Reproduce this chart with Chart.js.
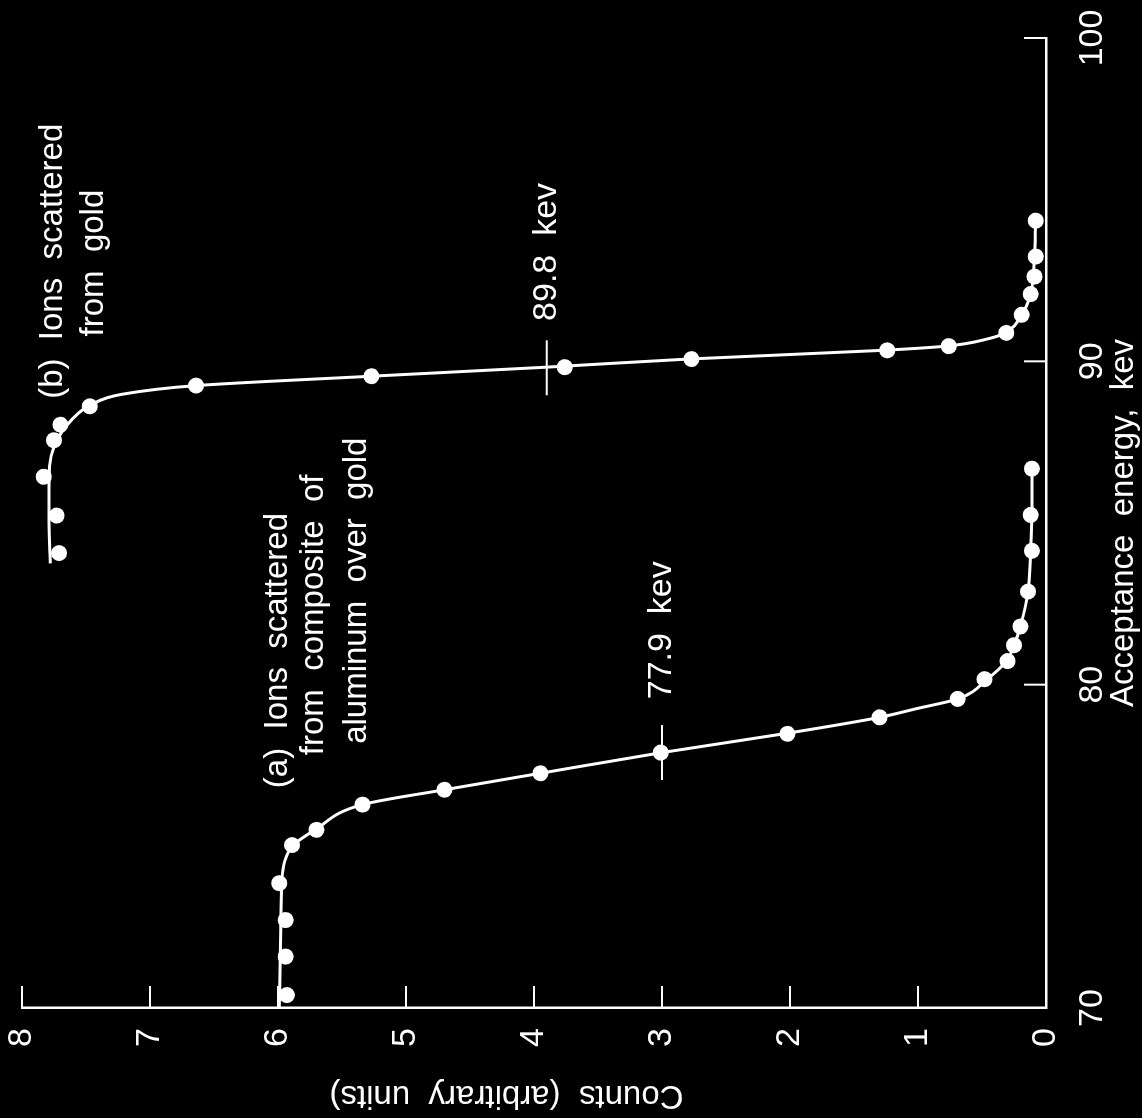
<!DOCTYPE html>
<html>
<head>
<meta charset="utf-8">
<script src="https://cdn.jsdelivr.net/npm/chart.js@4"></script>
<style>
  html, body { margin: 0; padding: 0; background: #000; overflow: hidden; }
  #wrap { position: relative; width: 1142px; height: 1118px; background: #000; }
  /* chart is drawn upright, then turned a quarter turn like the printed figure */
  #graph {
    position: absolute; left: 0; top: 0;
    width: 1118px; height: 1142px;
    transform-origin: 0 0;
    transform: translate(0, 1118px) rotate(-90deg);
  }
</style>
</head>
<body>
<div id="wrap"><canvas id="graph" width="1118" height="1142"></canvas></div>
<script>
const ctx = document.getElementById("graph");

// tick labels
const energyTicks = [70, 80, 90, 100];
const countTicks = [0, 1, 2, 3, 4, 5, 6, 7, 8];

// (a) composite of aluminum over gold - measured points
const aEnergy = [70.40, 71.59, 72.72, 73.86, 75.04, 75.51, 76.29, 76.75, 77.26, 77.90, 78.48, 78.99, 79.56, 80.17, 80.73, 81.22, 81.80, 82.88, 84.14, 85.25, 86.68];
const aCounts = [5.93, 5.94, 5.94, 5.99, 5.89, 5.70, 5.34, 4.70, 3.95, 3.01, 2.02, 1.30, 0.69, 0.48, 0.30, 0.25, 0.20, 0.14, 0.11, 0.12, 0.11];
// (a) drawn curve
const aFitEnergy = [70.0, 72.0, 73.9, 74.5, 75.04, 75.51, 76.29, 76.75, 77.26, 77.9, 78.48, 78.99, 79.25, 79.56, 80.17, 80.73, 81.22, 81.8, 82.88, 84.14, 85.25, 86.68];
const aFitCounts = [5.99, 5.98, 5.97, 5.95, 5.88, 5.71, 5.34, 4.70, 3.95, 3.0, 2.05, 1.30, 1.02, 0.69, 0.46, 0.31, 0.25, 0.20, 0.14, 0.12, 0.11, 0.11];

// (b) gold - measured points
const bEnergy = [84.07, 85.23, 86.43, 87.56, 88.04, 88.61, 89.25, 89.54, 89.82, 90.07, 90.34, 90.47, 90.88, 91.44, 92.08, 92.62, 93.24, 94.35];
const bCounts = [7.71, 7.73, 7.83, 7.75, 7.70, 7.47, 6.64, 5.27, 3.76, 2.77, 1.24, 0.76, 0.31, 0.19, 0.12, 0.09, 0.08, 0.08];
// (b) drawn curve
const bFitEnergy = [83.75, 85.0, 86.14, 87.36, 88.2, 88.66, 88.98, 89.25, 89.54, 89.82, 90.07, 90.34, 90.47, 90.7, 90.88, 91.44, 92.08, 92.62, 93.24, 94.35];
const bFitCounts = [7.78, 7.79, 7.79, 7.75, 7.61, 7.46, 7.22, 6.64, 5.27, 3.9, 2.80, 1.28, 0.78, 0.45, 0.32, 0.19, 0.12, 0.10, 0.09, 0.08];

// half-height marks
const markEnergy = [77.9, 89.8];
const markCounts = [3.0, 3.9];
const markLabels = ["77.9  kev", "89.8  kev"];

const toXY = (xs, ys) => xs.map((v, i) => ({ x: v, y: ys[i] }));

const FONT = "'Liberation Sans', Arial, sans-serif";

const overlay = {
  id: "overlay",
  afterDatasetsDraw(chart) {
    const c = chart.ctx;
    const { x, y } = chart.scales;
    c.save();
    c.strokeStyle = "#fff";
    c.fillStyle = "#fff";
    c.lineWidth = 2;
    // inward tick marks
    energyTicks.forEach((v) => {
      const px = x.getPixelForValue(v);
      c.beginPath();
      c.moveTo(px, y.bottom);
      c.lineTo(px, y.bottom - 22);
      c.stroke();
    });
    countTicks.forEach((v) => {
      const py = y.getPixelForValue(v);
      c.beginPath();
      c.moveTo(x.left, py);
      c.lineTo(x.left + 22, py);
      c.stroke();
    });
    // half-height crossing marks + labels
    c.font = "34px " + FONT;
    c.textBaseline = "middle";
    c.textAlign = "left";
    const labelStart = [79.55, 91.25];
    markEnergy.forEach((e, i) => {
      const py = y.getPixelForValue(markCounts[i]);
      c.beginPath();
      c.moveTo(x.getPixelForValue(e - 0.85), py);
      c.lineTo(x.getPixelForValue(e + 0.85), py);
      c.stroke();
      c.fillText(markLabels[i], x.getPixelForValue(labelStart[i]), py);
    });
    // curve notes
    const notes = [
      ["(a)  Ions  scattered", 76.8, 6.0],
      ["from  composite  of", 77.82, 5.72],
      ["aluminum  over  gold", 78.17, 5.38],
      ["(b)  Ions  scattered", 88.84, 7.76],
      ["from  gold", 90.77, 7.44]
    ];
    c.font = "33px " + FONT;
    notes.forEach(([t, e, n]) => {
      c.fillText(t, x.getPixelForValue(e), y.getPixelForValue(n));
    });
    c.restore();
  }
};

new Chart(ctx, {
  type: "scatter",
  data: {
    datasets: [
      {
        label: "(a) curve",
        data: toXY(aFitEnergy, aFitCounts),
        showLine: true,
        borderColor: "#fff",
        borderWidth: 3,
        pointRadius: 0,
        cubicInterpolationMode: "monotone",
        order: 2
      },
      {
        label: "(b) curve",
        data: toXY(bFitEnergy, bFitCounts),
        showLine: true,
        borderColor: "#fff",
        borderWidth: 3,
        pointRadius: 0,
        cubicInterpolationMode: "monotone",
        order: 2
      },
      {
        label: "(a) Ions scattered from composite of aluminum over gold",
        data: toXY(aEnergy, aCounts),
        backgroundColor: "#fff",
        borderWidth: 0,
        pointRadius: 8,
        order: 1
      },
      {
        label: "(b) Ions scattered from gold",
        data: toXY(bEnergy, bCounts),
        backgroundColor: "#fff",
        borderWidth: 0,
        pointRadius: 8,
        order: 1
      }
    ]
  },
  options: {
    responsive: false,
    animation: false,
    devicePixelRatio: 1,
    layout: { padding: { top: 22, right: 38, left: 0, bottom: 0 } },
    plugins: {
      legend: { display: false },
      tooltip: { enabled: false }
    },
    scales: {
      x: {
        type: "linear",
        position: "bottom",
        min: 70,
        max: 100,
        afterBuildTicks: (s) => { s.ticks = energyTicks.map((v) => ({ value: v })); },
        afterFit: (s) => { s.height = 96; s.paddingLeft = 0; s.paddingRight = 0; },
        grid: { display: false },
        border: { display: true, color: "#fff", width: 2.5 },
        ticks: { color: "#fff", padding: 22, maxRotation: 0, font: { family: FONT, size: 34, lineHeight: 1 } },
        title: {
          display: true,
          text: "Acceptance  energy,  kev",
          color: "#fff",
          font: { family: FONT, size: 33, lineHeight: 1 },
          padding: { top: 0, bottom: 2 }
        }
      },
      y: {
        type: "linear",
        min: 0,
        max: 8,
        afterBuildTicks: (s) => { s.ticks = countTicks.map((v) => ({ value: v })); },
        afterFit: (s) => { s.width = 110; s.paddingTop = 0; s.paddingBottom = 0; },
        grid: { display: false },
        border: { display: true, color: "#fff", width: 2.5 },
        ticks: { color: "#fff", padding: 12, font: { family: FONT, size: 34, lineHeight: 1 } },
        title: {
          display: true,
          text: "      Counts  (arbitrary  units)",
          color: "#fff",
          font: { family: FONT, size: 33, lineHeight: 1 },
          padding: { top: 6, bottom: 0 }
        }
      }
    }
  },
  plugins: [overlay]
});
</script>
</body>
</html>
